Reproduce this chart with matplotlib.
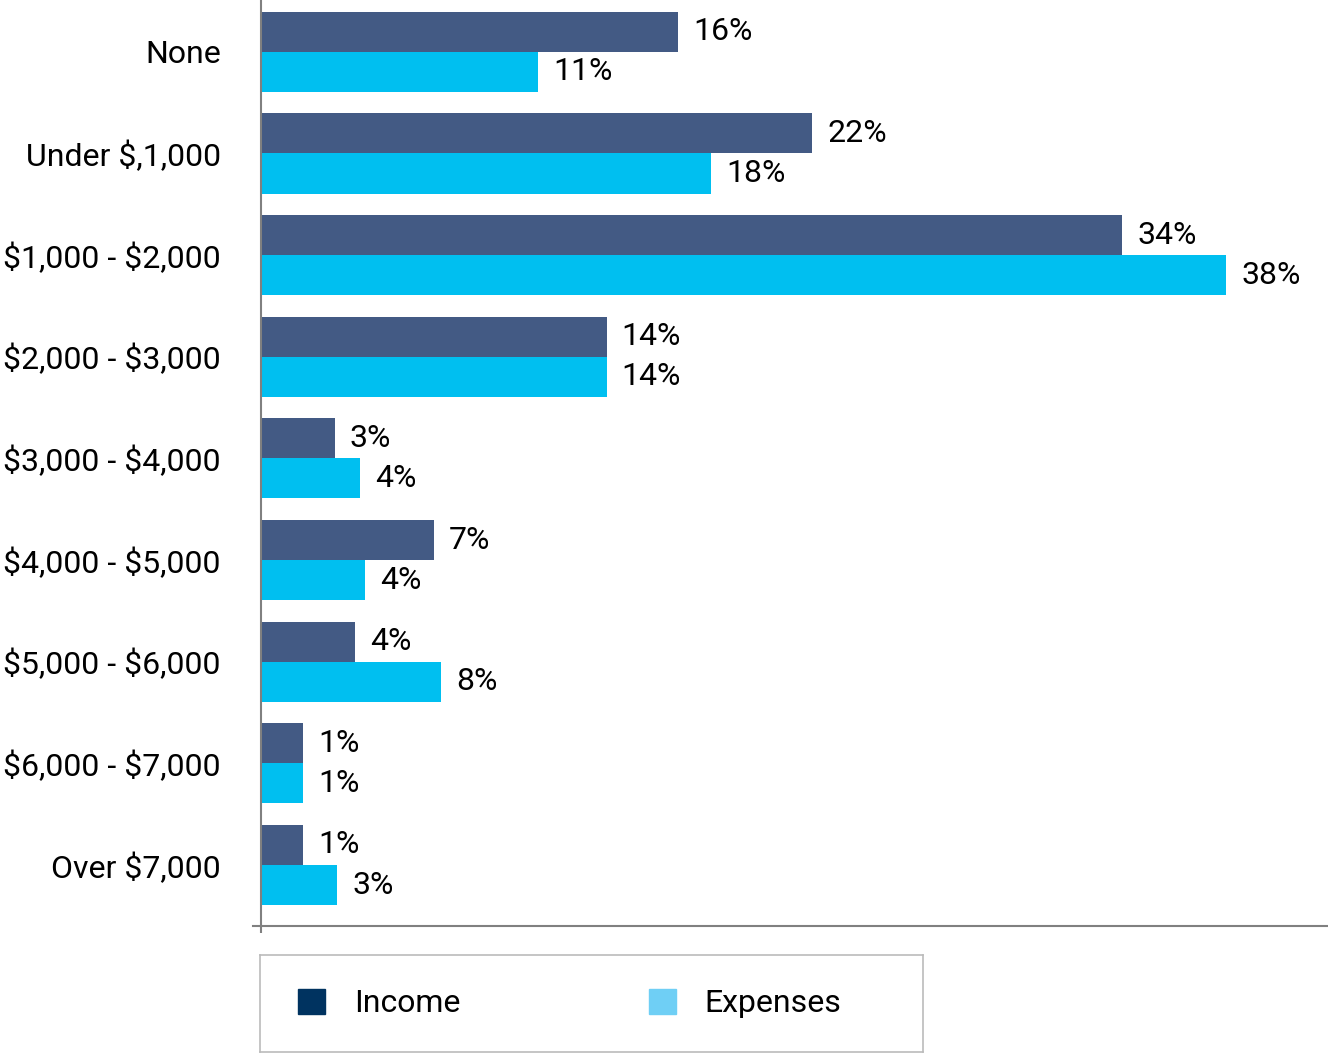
import matplotlib.pyplot as plt
from matplotlib.patches import Patch
import numpy as np

plt.rcParams['font.family'] = ['Roboto', 'DejaVu Sans']
plt.rcParams['text.parse_math'] = False

# -----------------------------
# Data
# -----------------------------
categories = ["None", "Under $,1,000", "$1,000 - $2,000", "$2,000 - $3,000",
              "$3,000 - $4,000", "$4,000 - $5,000", "$5,000 - $6,000",
              "$6,000 - $7,000", "Over $7,000"]
income = [16.4, 21.7, 33.9, 13.6, 2.9, 6.8, 3.7, 1.65, 1.65]
expenses = [10.9, 17.7, 38.0, 13.6, 3.9, 4.1, 7.1, 1.65, 3.0]
income_labels = ["16%", "22%", "34%", "14%", "3%", "7%", "4%", "1%", "1%"]
expenses_labels = ["11%", "18%", "38%", "14%", "4%", "4%", "8%", "1%", "3%"]

bar_income = "#435A84"
bar_expenses = "#00BFF0"
leg_income = "#003360"
leg_expenses = "#6FCFF5"
gray = "#808080"
fs = 23

# -----------------------------
# Chart
# -----------------------------
fig = plt.figure(figsize=(13.28, 10.55), dpi=100)
ax = fig.add_axes([261 / 1328, 129 / 1055, 1 - 261 / 1328, 1 - 129 / 1055])

y = np.arange(len(categories))
h = 0.394
ax.barh(y - h / 2, income, height=h, color=bar_income)
ax.barh(y + h / 2, expenses, height=h, color=bar_expenses)

for yi, v, lab in zip(y, income, income_labels):
    ax.text(v + 0.6, yi - h / 2, lab, va="center", ha="left", fontsize=fs)
for yi, v, lab in zip(y, expenses, expenses_labels):
    ax.text(v + 0.6, yi + h / 2, lab, va="center", ha="left", fontsize=fs)

ax.set_xlim(0, 42.0)
ax.set_ylim(8.6, -0.51)
ax.set_yticks(y)
ax.set_yticklabels(categories, fontsize=fs)
ax.tick_params(axis="y", length=0, pad=29)
ax.set_xticks([0])
ax.set_xticklabels([""])
ax.tick_params(axis="x", length=5, width=1.5, color=gray, direction="out")

for s in ["top", "right"]:
    ax.spines[s].set_visible(False)
for s in ["left", "bottom"]:
    ax.spines[s].set_color(gray)
    ax.spines[s].set_linewidth(1.5)
ax.spines["bottom"].set_bounds(-0.3, 42.0)
ax.spines["bottom"].set_clip_on(False)

# -----------------------------
# Legend box
# -----------------------------
lax = fig.add_axes([260 / 1328, 3 / 1055, 663 / 1328, 97 / 1055])
lax.set_xticks([])
lax.set_yticks([])
for s in lax.spines.values():
    s.set_color("#BBBBBB")
    s.set_linewidth(1.2)
handles = [Patch(color=leg_income, label="Income"),
           Patch(color=leg_expenses, label="Expenses")]
lax.legend(handles=handles, loc="center left", bbox_to_anchor=(38 / 663, 0.5),
           ncol=2, frameon=False, fontsize=fs, handlelength=0.85,
           handleheight=0.85, handletextpad=0.9, columnspacing=5.9,
           borderaxespad=0, borderpad=0)

plt.savefig("out.png", dpi=100)
